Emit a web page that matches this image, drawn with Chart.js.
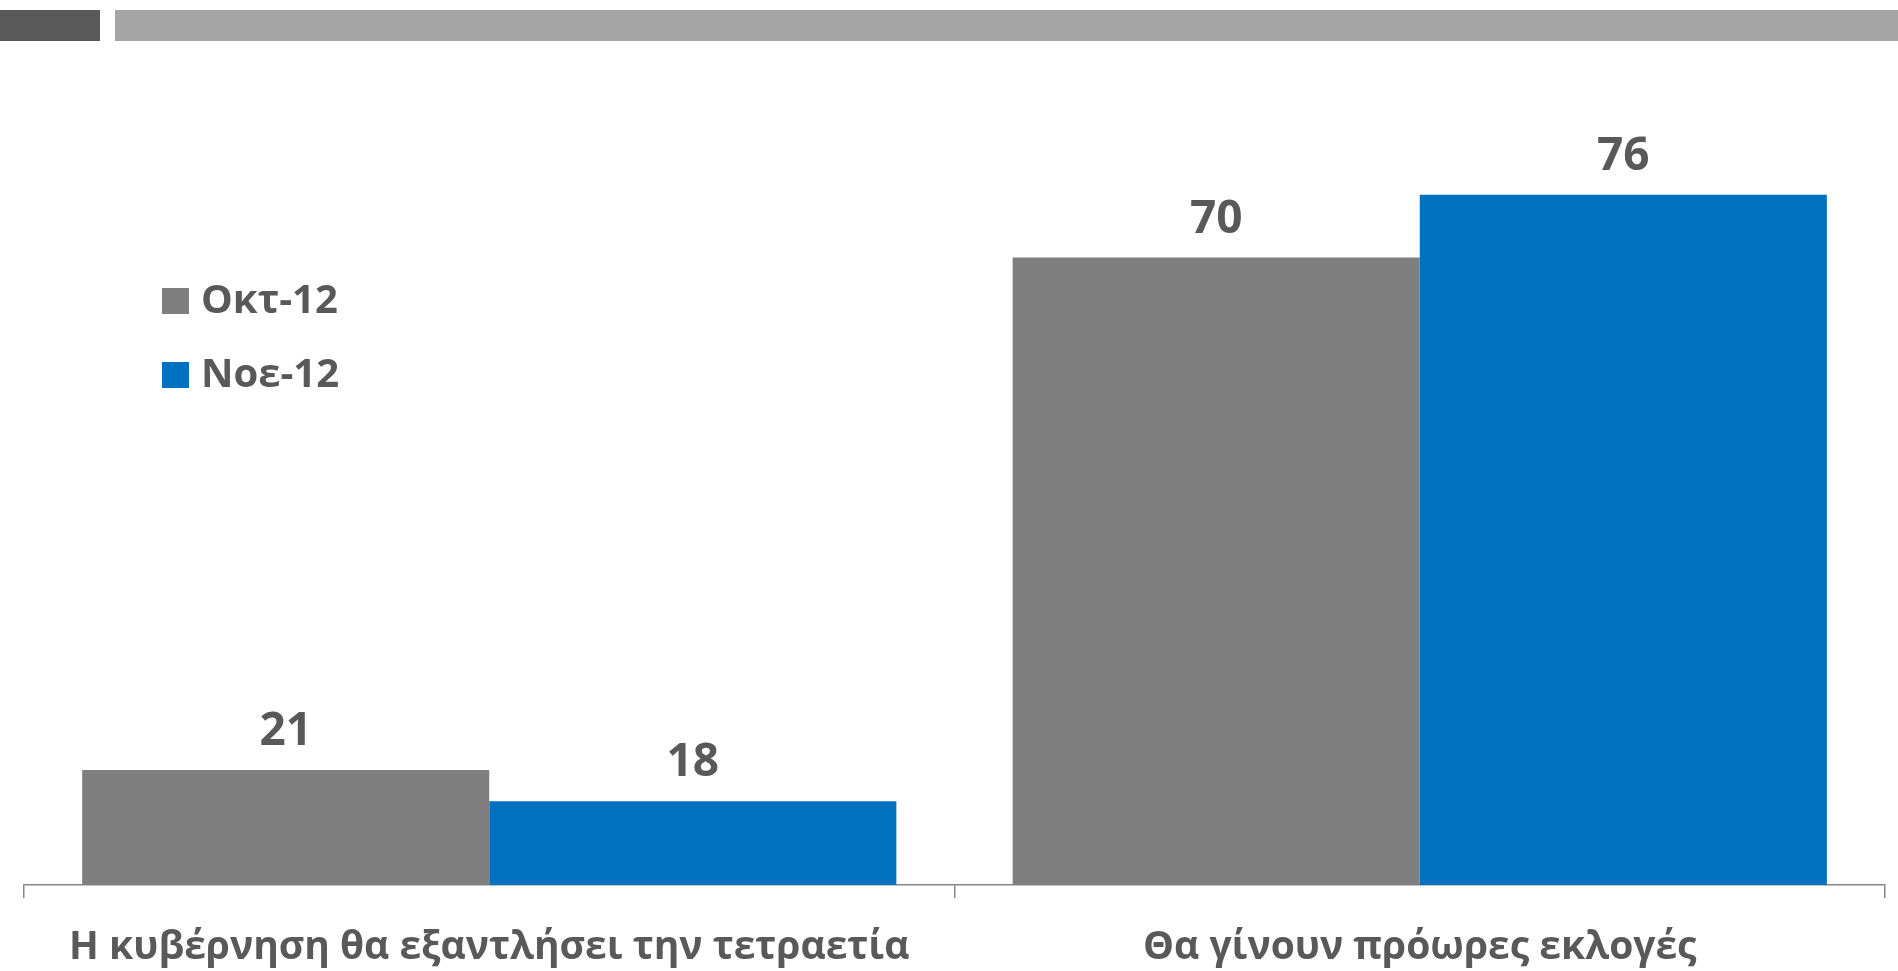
<!DOCTYPE html>
<html>
<head>
<meta charset="utf-8">
<script src="https://cdn.jsdelivr.net/npm/chart.js@4"></script>
<style>
  html, body { margin: 0; padding: 0; background: #fff; overflow: hidden; }
  #wrap { position: relative; width: 1898px; height: 971px; overflow: hidden; }
  .strip { position: absolute; top: 10px; height: 31px; }
  #stripDark { left: 0; width: 100px; background: #595959; }
  #stripLight { left: 115px; width: 1783px; background: #a5a5a5; }
  canvas { position: absolute; left: 0; top: 0; }
</style>
</head>
<body>
<div id="wrap">
  <div class="strip" id="stripDark"></div>
  <div class="strip" id="stripLight"></div>
  <canvas id="chart" width="1898" height="1001"></canvas>
</div>
<script>
// Data
const categories = ["Η κυβέρνηση θα εξαντλήσει την τετραετία", "Θα γίνουν πρόωρες εκλογές"];
const seriesNames = ["Οκτ-12", "Νοε-12"];
const octValues = [21, 70];
const novValues = [18, 76];
const seriesColors = ["#7f7f7f", "#0070c0"];

const textColor = "#595959";
const fontFamily = "'Open Sans', 'Noto Sans', sans-serif";

// value labels above each bar
const valueLabels = {
  id: "valueLabels",
  afterDatasetsDraw(chart) {
    const ctx = chart.ctx;
    ctx.save();
    ctx.fillStyle = textColor;
    ctx.font = "bold 46px " + fontFamily;
    ctx.textAlign = "center";
    ctx.textBaseline = "bottom";
    chart.data.datasets.forEach((ds, i) => {
      chart.getDatasetMeta(i).data.forEach((bar, j) => {
        ctx.fillText(ds.data[j], bar.x, bar.y - 15);
      });
    });
    ctx.restore();
  },
};

// legend drawn inside the plot, left side
const sideLegend = {
  id: "sideLegend",
  afterDraw(chart) {
    const ctx = chart.ctx;
    ctx.save();
    ctx.font = "bold 40px " + fontFamily;
    ctx.textBaseline = "middle";
    chart.data.datasets.forEach((ds, i) => {
      const y = 301 + i * 74;
      ctx.fillStyle = ds.backgroundColor;
      ctx.fillRect(162, y - 13, 27, 26);
      ctx.fillStyle = textColor;
      ctx.fillText(ds.label, 201, y + 1);
    });
    ctx.restore();
  },
};

new Chart(document.getElementById("chart").getContext("2d"), {
  type: "bar",
  data: {
    labels: categories,
    datasets: [
      { label: seriesNames[0], data: octValues, backgroundColor: seriesColors[0] },
      { label: seriesNames[1], data: novValues, backgroundColor: seriesColors[1] },
    ],
  },
  options: {
    responsive: false,
    animation: false,
    categoryPercentage: 0.875,
    barPercentage: 1,
    layout: { padding: { left: 24, right: 13, top: 153, bottom: 4 } },
    plugins: {
      legend: { display: false },
      tooltip: { enabled: false },
    },
    scales: {
      x: {
        grid: {
          offset: true,
          drawOnChartArea: false,
          drawTicks: true,
          tickLength: 13,
          color: "#868686",
          lineWidth: 1.5,
        },
        border: { color: "#868686", width: 1.5 },
        ticks: {
          color: textColor,
          padding: 30,
          font: { family: fontFamily, size: 39, weight: "bold", lineHeight: 1 },
          maxRotation: 0,
          autoSkip: false,
        },
      },
      y: {
        display: false,
        min: 10,
        max: 80,
      },
    },
  },
  plugins: [valueLabels, sideLegend],
});
</script>
</body>
</html>
